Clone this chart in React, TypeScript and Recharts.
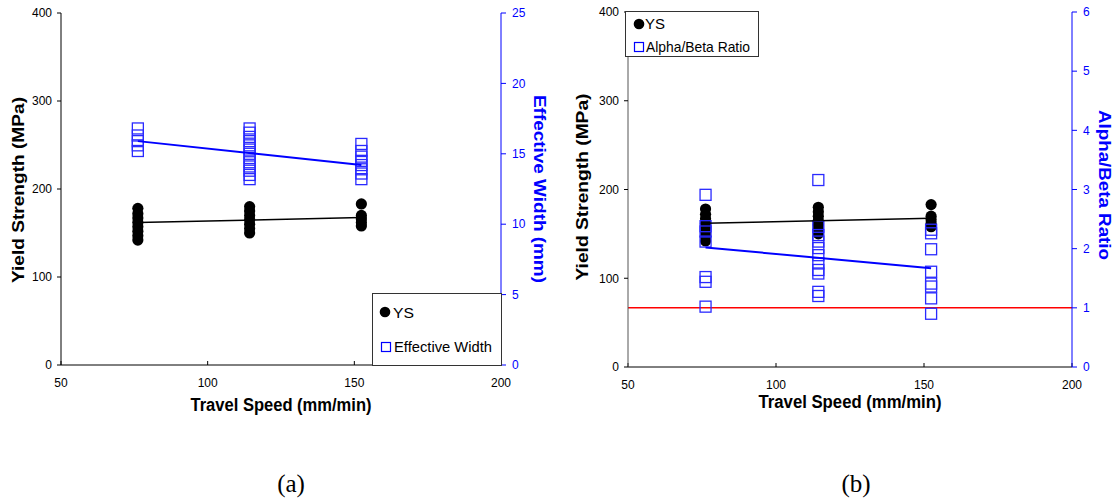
import React from 'react';
import { ScatterChart, Scatter, XAxis, YAxis, ReferenceLine, Label } from 'recharts';

// travel speed groups (mm/min)
const speeds = [76.2, 114.3, 152.4];
const trendSpeeds = [76.2, 152.4];

// yield strength (MPa) per speed group
const ysGroups = [
    [142, 147, 152, 157, 162, 167, 172, 178],
    [150, 155, 160, 165, 170, 175, 180],
    [158, 162, 166, 170, 183],
];
// effective width (mm) per speed group
const widthGroups = [
    [15.2, 15.6, 15.9, 16.3, 16.8],
    [13.2, 13.5, 13.8, 14.1, 14.4, 14.7, 15.0, 15.3, 15.6, 15.9, 16.2, 16.5, 16.8],
    [13.2, 13.6, 13.9, 14.2, 14.5, 14.8, 15.2, 15.7],
];
// alpha/beta ratio per speed group
const ratioGroups = [
    [1.02, 1.44, 1.52, 2.12, 2.29, 2.38, 2.91],
    [1.2, 1.27, 1.58, 1.64, 1.75, 1.89, 2.01, 2.12, 2.23, 2.37, 3.16],
    [0.9, 1.16, 1.36, 1.41, 1.61, 1.99, 2.26, 2.32],
];
// linear trend end values
const ysTrend = [162, 167.5];
const widthTrend = [15.9, 14.2];
const ratioTrend = [2.02, 1.67];
const ratioLimit = 1;

const speedTicks = [50, 100, 150, 200];
const ysTicks = [0, 100, 200, 300, 400];
const widthTicks = [0, 5, 10, 15, 20, 25];
const ratioTicks = [0, 1, 2, 3, 4, 5, 6];

const toPoints = (groups: number[][]) =>
    groups.flatMap((vals, i) => vals.map((v) => ({ speed: speeds[i], value: v })));
const toTrend = (vals: number[]) => vals.map((v, i) => ({ speed: trendSpeeds[i], value: v }));

const ysData = toPoints(ysGroups);
const widthData = toPoints(widthGroups);
const ratioData = toPoints(ratioGroups);

const FONT = '"Liberation Sans", Arial, sans-serif';
const BLUE = '#0000ff';
const SQ = '#2a2aff';

const Dot = (p: any) => <circle cx={p.cx} cy={p.cy} r={5.6} fill="#000" />;
const Square = (p: any) => (
    <rect x={p.cx - 5.5} y={p.cy - 5.5} width={11} height={11} fill="none" stroke={SQ} strokeWidth={1.3} />
);
const NoShape = () => <g />;

const tickStyle = { fill: '#000', fontSize: 12, fontFamily: FONT };
const blueTick = { fill: BLUE, fontSize: 12, fontFamily: FONT };

const Title = ({ x, y, angle, text, len, color = '#000', size = 17 }: any) => (
    <text
        transform={`translate(${x},${y}) rotate(${angle})`}
        textAnchor="middle"
        dominantBaseline="central"
        fontFamily={FONT}
        fontWeight="bold"
        fontSize={size}
        fill={color}
        textLength={len}
        lengthAdjust="spacingAndGlyphs"
    >
        {text}
    </text>
);

const LegendBox = ({ left, top, w, h, items }: any) => (
    <svg style={{ position: 'absolute', left, top, overflow: 'visible' }} width={w} height={h}>
        <rect x={0.5} y={0.5} width={w - 1} height={h - 1} fill="#fff" stroke="#333" />
        {items.map((it: any) => (
            <g key={it.text}>
                {it.square ? (
                    <rect x={it.mx - 4.5} y={it.my - 4.5} width={9} height={9} fill="none" stroke={BLUE} strokeWidth={1.2} />
                ) : (
                    <circle cx={it.mx} cy={it.my} r={5.3} fill="#000" />
                )}
                <text x={it.tx} y={it.ty} fontFamily={FONT} fontSize={15} fill="#000" textLength={it.len} lengthAdjust="spacingAndGlyphs">
                    {it.text}
                </text>
            </g>
        ))}
    </svg>
);

const App = () => {
    return (
        <div style={{ position: 'absolute', left: 0, top: 0, width: 1114, height: 503, background: '#fff' }}>
            {/* (a) yield strength & effective width */}
            <div style={{ position: 'absolute', left: 0, top: 0 }}>
                <ScatterChart width={556} height={430} margin={{ top: 13, right: 0, bottom: 0, left: 0 }}>
                    <XAxis xAxisId="top" orientation="top" type="number" dataKey="speed" domain={[50, 200]} ticks={speedTicks}
                        height={0} tick={false} tickSize={-4} axisLine={{ stroke: '#000' }} tickLine={{ stroke: '#000' }} />
                    <XAxis type="number" dataKey="speed" domain={[50, 200]} ticks={speedTicks} height={65}
                        tick={tickStyle} tickSize={-4} tickMargin={17} axisLine={{ stroke: '#000' }} tickLine={{ stroke: '#000' }}>
                        <Label content={() => <Title x={281} y={405} angle={0} text="Travel Speed (mm/min)" len={181} size={18} />} />
                    </XAxis>
                    <YAxis yAxisId="left" type="number" domain={[0, 400]} ticks={ysTicks} width={61}
                        tick={tickStyle} tickSize={4} tickMargin={5} axisLine={{ stroke: '#000' }} tickLine={{ stroke: '#000' }}>
                        <Label content={() => <Title x={18} y={190} angle={-90} text="Yield Strength (MPa)" len={186} />} />
                    </YAxis>
                    <YAxis yAxisId="right" orientation="right" type="number" domain={[0, 25]} ticks={widthTicks} width={55}
                        tick={blueTick} tickSize={5} tickMargin={6} axisLine={{ stroke: BLUE }} tickLine={{ stroke: BLUE }}>
                        <Label content={() => <Title x={539} y={189} angle={90} text="Effective Width (mm)" len={188} color={BLUE} />} />
                    </YAxis>
                    <Scatter yAxisId="left" data={ysData} dataKey="value" shape={Dot} isAnimationActive={false} />
                    <Scatter yAxisId="right" data={widthData} dataKey="value" shape={Square} isAnimationActive={false} />
                    <Scatter yAxisId="left" data={toTrend(ysTrend)} dataKey="value" shape={NoShape}
                        line={{ stroke: '#000', strokeWidth: 1.5 }} isAnimationActive={false} />
                    <Scatter yAxisId="right" data={toTrend(widthTrend)} dataKey="value" shape={NoShape}
                        line={{ stroke: BLUE, strokeWidth: 2 }} isAnimationActive={false} />
                </ScatterChart>
                <LegendBox left={372} top={293} w={130} h={73} items={[
                    { mx: 385, my: 312, tx: 393, ty: 318, text: 'YS', len: 21 },
                    { mx: 386, my: 347, tx: 394, ty: 352, text: 'Effective Width', len: 98, square: true },
                ].map((it) => ({ ...it, mx: it.mx - 372, my: it.my - 293, tx: it.tx - 372, ty: it.ty - 293 }))} />
            </div>

            {/* (b) yield strength & alpha/beta ratio */}
            <div style={{ position: 'absolute', left: 556, top: 0 }}>
                <ScatterChart width={558} height={430} margin={{ top: 12, right: 0, bottom: 0, left: 0 }}>
                    <XAxis xAxisId="top" orientation="top" type="number" dataKey="speed" domain={[50, 200]} ticks={speedTicks}
                        height={0} tick={false} tickSize={-4} axisLine={{ stroke: '#000' }} tickLine={{ stroke: '#000' }} />
                    <XAxis type="number" dataKey="speed" domain={[50, 200]} ticks={speedTicks} height={63}
                        tick={tickStyle} tickSize={-4} tickMargin={17} axisLine={{ stroke: '#000' }} tickLine={{ stroke: '#000' }}>
                        <Label content={() => <Title x={294} y={402} angle={0} text="Travel Speed (mm/min)" len={183} size={18} />} />
                    </XAxis>
                    <YAxis yAxisId="left" type="number" domain={[0, 400]} ticks={ysTicks} width={72}
                        tick={tickStyle} tickSize={4} tickMargin={5} axisLine={{ stroke: '#555' }} tickLine={{ stroke: '#000' }}>
                        <Label content={() => <Title x={26} y={187} angle={-90} text="Yield Strength (MPa)" len={187} />} />
                    </YAxis>
                    <YAxis yAxisId="right" orientation="right" type="number" domain={[0, 6]} ticks={ratioTicks} width={42}
                        tick={blueTick} tickSize={5} tickMargin={6} axisLine={{ stroke: BLUE }} tickLine={{ stroke: BLUE }}>
                        <Label content={() => <Title x={548} y={185} angle={90} text="Alpha/Beta Ratio" len={150} color={BLUE} />} />
                    </YAxis>
                    <ReferenceLine yAxisId="right" y={ratioLimit} stroke="#ff0000" strokeWidth={1.5} />
                    <Scatter yAxisId="left" data={ysData} dataKey="value" shape={Dot} isAnimationActive={false} />
                    <Scatter yAxisId="right" data={ratioData} dataKey="value" shape={Square} isAnimationActive={false} />
                    <Scatter yAxisId="left" data={toTrend(ysTrend)} dataKey="value" shape={NoShape}
                        line={{ stroke: '#000', strokeWidth: 1.5 }} isAnimationActive={false} />
                    <Scatter yAxisId="right" data={toTrend(ratioTrend)} dataKey="value" shape={NoShape}
                        line={{ stroke: BLUE, strokeWidth: 2 }} isAnimationActive={false} />
                </ScatterChart>
                <LegendBox left={625 - 556} top={11} w={134} h={46} items={[
                    { mx: 639, my: 24, tx: 645, ty: 29, text: 'YS', len: 20 },
                    { mx: 639, my: 47, tx: 646, ty: 52, text: 'Alpha/Beta Ratio', len: 104, square: true },
                ].map((it) => ({ ...it, mx: it.mx - 625, my: it.my - 11, tx: it.tx - 625, ty: it.ty - 11 }))} />
            </div>

            <div style={{ position: 'absolute', left: 291, top: 484, transform: 'translate(-50%,-50%)', fontFamily: '"Liberation Serif", "Times New Roman", serif', fontSize: 25 }}>(a)</div>
            <div style={{ position: 'absolute', left: 856, top: 484, transform: 'translate(-50%,-50%)', fontFamily: '"Liberation Serif", "Times New Roman", serif', fontSize: 25 }}>(b)</div>
        </div>
    );
};

export default App;
